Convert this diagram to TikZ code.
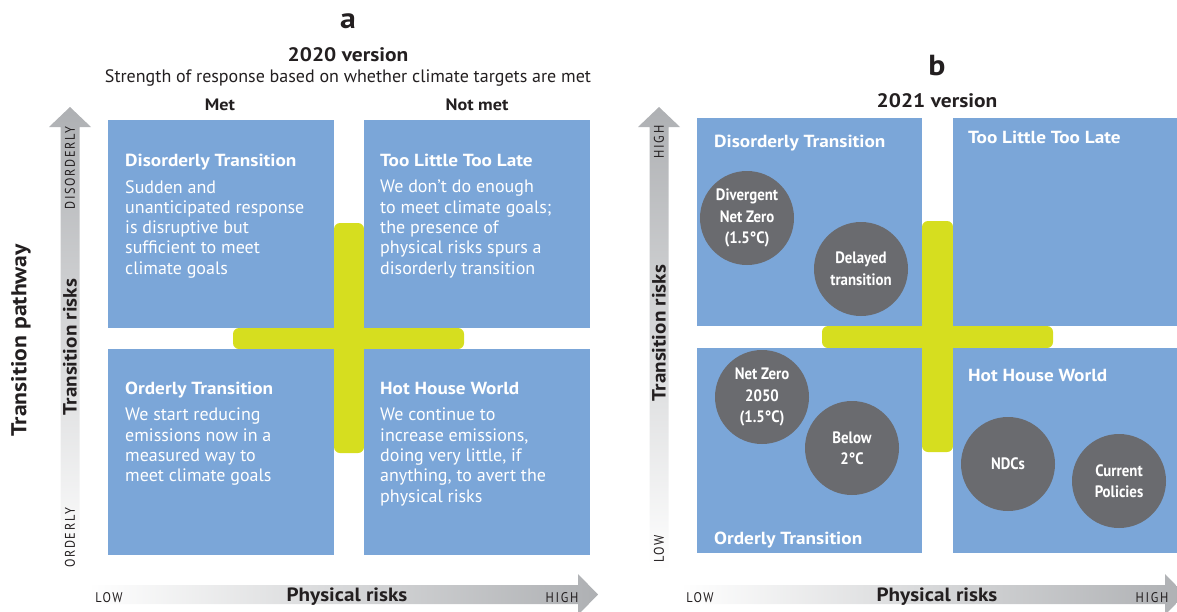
\documentclass[tikz,border=0pt]{standalone}
\usepackage{fontspec}
\setmainfont{PT Sans}[BoldFeatures={FakeStretch=1.1}]
\newfontfamily\condfont[FakeStretch=0.9]{PT Sans}
\newfontfamily\capsfont[FakeStretch=0.88,LetterSpace=12]{PT Sans}
\usetikzlibrary{positioning}

\definecolor{quadblue}{HTML}{7BA6D8}
\definecolor{crossgreen}{HTML}{D6DE1F}
\definecolor{scengray}{HTML}{6A6B6F}
\definecolor{axisgray}{HTML}{AEB0B3}
\definecolor{inkdark}{HTML}{231F20}

\tikzset{
  quad/.style={fill=quadblue, anchor=north west, inner sep=0pt},
  quadtitle/.style={anchor=base west, inner sep=0pt, text=white, font=\fontsize{17.5}{20}\selectfont\bfseries},
  quadtext/.style={anchor=north west, inner sep=0pt, align=left, text=white, font=\fontsize{18}{20.3}\selectfont},
  scen/.style={circle, fill=scengray, minimum size=94pt, inner sep=0pt, align=center, text=white,
    font=\condfont\fontsize{16.5}{21.5}\selectfont\bfseries},
  head/.style={text=inkdark, font=\fontsize{19.5}{22}\selectfont\bfseries},
  colhead/.style={text=inkdark, font=\fontsize{16.5}{20}\selectfont\bfseries},
  letter/.style={text=inkdark, font=\fontsize{29}{30}\selectfont\bfseries},
  axislabel/.style={text=inkdark, font=\fontsize{19.2}{22}\selectfont\bfseries},
  axisend/.style={text=inkdark, font=\capsfont\fontsize{14}{16}\selectfont},
}

\begin{document}
\begin{tikzpicture}[x=1pt,y=-1pt]
    \useasboundingbox (0,0) rectangle (1177,611);
    %% Panel a: headings
    \node[letter] (aLetter) at (348,21) {a};
    \node[head] (aVersion) at (348,55) {2020 version};
    \node[text=inkdark, font=\fontsize{18}{20}\selectfont] (aSub) at (348,78) {Strength of response based on whether climate targets are met};
    \node[colhead] (aMet) at (220,105) {Met};
    \node[colhead] (aNotMet) at (477,105) {Not met};
    %% Panel a: axes
    \shade[top color=axisgray, middle color=axisgray!90, bottom color=white]
        (60.5,570) -- (60.5,127) -- (49,127) -- (70,107) -- (91,127) -- (79.5,127) -- (79.5,570) -- cycle;
    \shade[left color=white, middle color=axisgray!85, right color=axisgray]
        (88,585) -- (578,585) -- (578,574) -- (598,594.5) -- (578,615) -- (578,604) -- (88,604) -- cycle;
    \node[axislabel, rotate=90, font=\fontsize{21.5}{24}\selectfont\bfseries] (aPathway) at (21,340) {Transition pathway};
    \node[axislabel, rotate=90] (aTrans) at (70,347) {Transition risks};
    \node[axisend, rotate=90] (aDisorderly) at (70,168) {DISORDERLY};
    \node[axisend, rotate=90] (aOrderly) at (70,538) {ORDERLY};
    \node[axisend, anchor=base] (aLow) at (109,602) {LOW};
    \node[axislabel, anchor=base] (aPhys) at (347,601) {Physical risks};
    \node[axisend, anchor=base] (aHigh) at (562,602) {HIGH};
    %% Panel a: cross
    \fill[crossgreen, rounded corners=6pt] (334,223) rectangle (364,453);
    \fill[crossgreen, rounded corners=6pt] (233,328) rectangle (464,349);
    %% Panel a: quadrants
    \node[quad, minimum width=226pt, minimum height=208pt] (aDis) at (108,120) {};
    \node[quad, minimum width=226pt, minimum height=208pt] (aToo) at (364,120) {};
    \node[quad, minimum width=226pt, minimum height=206pt] (aOrd) at (108,349) {};
    \node[quad, minimum width=226pt, minimum height=206pt] (aHot) at (364,349) {};
    \node[quadtitle] (aDisTitle) at (125,166) {Disorderly Transition};
    \node[quadtext] (aDisText) at (125,180) {Sudden and\\unanticipated response\\is disruptive but\\sufficient to meet\\climate goals};
    \node[quadtitle] (aTooTitle) at (380,166) {Too Little Too Late};
    \node[quadtext] (aTooText) at (380,180) {We don’t do enough\\to meet climate goals;\\the presence of\\physical risks spurs a\\disorderly transition};
    \node[quadtitle] (aOrdTitle) at (125,394) {Orderly Transition};
    \node[quadtext] (aOrdText) at (125,408) {We start reducing\\emissions now in a\\measured way to\\meet climate goals};
    \node[quadtitle] (aHotTitle) at (380,394) {Hot House World};
    \node[quadtext] (aHotText) at (380,408) {We continue to\\increase emissions,\\doing very little, if\\anything, to avert the\\physical risks};

    %% Panel b: headings
    \node[letter] (bLetter) at (937,66) {b};
    \node[head] (bVersion) at (937,101) {2021 version};
    %% Panel b: axes
    \shade[top color=axisgray, middle color=axisgray!90, bottom color=white]
        (649.5,570) -- (649.5,127) -- (638,127) -- (659,107) -- (680,127) -- (668.5,127) -- (668.5,570) -- cycle;
    \shade[left color=white, middle color=axisgray!85, right color=axisgray]
        (680,585) -- (1165,585) -- (1165,574) -- (1185,594.5) -- (1165,615) -- (1165,604) -- (680,604) -- cycle;
    \node[axislabel, rotate=90] (bTrans) at (659,333) {Transition risks};
    \node[axisend, rotate=90] (bHigh) at (659,142) {HIGH};
    \node[axisend, rotate=90] (bLowV) at (659,549) {LOW};
    \node[axisend, anchor=base] (bLow) at (700,602) {LOW};
    \node[axislabel, anchor=base] (bPhys) at (937,601) {Physical risks};
    \node[axisend, anchor=base] (bHighH) at (1152,602) {HIGH};
    %% Panel b: cross
    \fill[crossgreen, rounded corners=6pt] (922,221) rectangle (953,452);
    \fill[crossgreen, rounded corners=6pt] (822,326) rectangle (1053,348);
    %% Panel b: quadrants
    \node[quad, minimum width=225pt, minimum height=208pt] (bDis) at (697,118) {};
    \node[quad, minimum width=224pt, minimum height=208pt] (bToo) at (953,118) {};
    \node[quad, minimum width=225pt, minimum height=205pt] (bOrd) at (697,348) {};
    \node[quad, minimum width=224pt, minimum height=205pt] (bHot) at (953,348) {};
    \node[quadtitle] (bDisTitle) at (714,147) {Disorderly Transition};
    \node[quadtitle] (bTooTitle) at (968,143) {Too Little Too Late};
    \node[quadtitle] (bOrdTitle) at (714,544) {Orderly Transition};
    \node[quadtitle] (bHotTitle) at (968,381) {Hot House World};
    %% Panel b: scenarios
    \node[scen] (bDivergent) at (747,218) {Divergent\\Net Zero\\(1.5°C)};
    \node[scen] (bDelayed) at (861,269) {Delayed\\transition};
    \node[scen] (bNetZero) at (762,397) {Net Zero\\2050\\(1.5°C)};
    \node[scen] (bBelow) at (852,448) {Below\\2°C};
    \node[scen] (bNDC) at (1008,464) {NDCs};
    \node[scen] (bCurrent) at (1119,481) {Current\\Policies};
\end{tikzpicture}
\end{document}
